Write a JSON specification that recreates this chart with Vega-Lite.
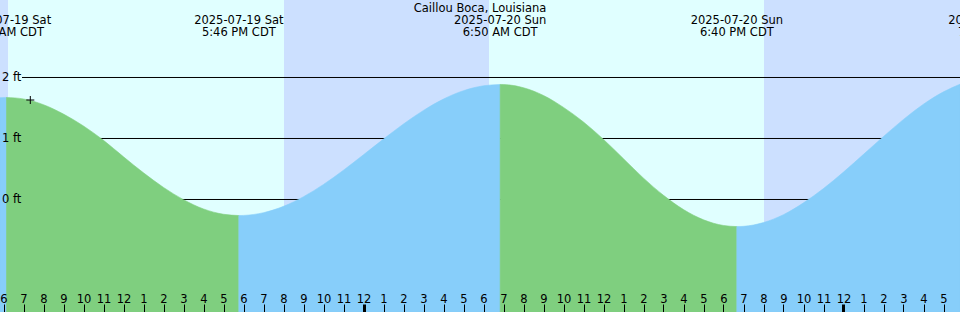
{
  "$schema": "https://vega.github.io/schema/vega-lite/v6.json",
  "width": 960,
  "height": 312,
  "autosize": "none",
  "padding": 0,
  "config": {
    "view": {"stroke": null},
    "font": "DejaVu Sans"
  },
  "datasets": {
    "bands": [
      {"start": -18.175, "end": -17.76, "kind": "night"},
      {"start": -17.76, "end": -3.975, "kind": "day"},
      {"start": -3.975, "end": 6.275, "kind": "night"},
      {"start": 6.275, "end": 20.025, "kind": "day"},
      {"start": 20.025, "end": 29.825, "kind": "night"}
    ],
    "tide": [
      {"h": -18.175, "ft": 1.668, "kind": "rising", "seg": "r0"},
      {"h": -17.85, "ft": 1.673, "kind": "rising", "seg": "r0"},
      {"h": -17.85, "ft": 1.673, "kind": "falling", "seg": "f1"},
      {"h": -17, "ft": 1.648, "kind": "falling", "seg": "f1"},
      {"h": -16, "ft": 1.554, "kind": "falling", "seg": "f1"},
      {"h": -15, "ft": 1.4, "kind": "falling", "seg": "f1"},
      {"h": -14, "ft": 1.205, "kind": "falling", "seg": "f1"},
      {"h": -13, "ft": 0.97, "kind": "falling", "seg": "f1"},
      {"h": -12, "ft": 0.7, "kind": "falling", "seg": "f1"},
      {"h": -11, "ft": 0.437, "kind": "falling", "seg": "f1"},
      {"h": -10, "ft": 0.198, "kind": "falling", "seg": "f1"},
      {"h": -9, "ft": -0.003, "kind": "falling", "seg": "f1"},
      {"h": -8, "ft": -0.155, "kind": "falling", "seg": "f1"},
      {"h": -7, "ft": -0.242, "kind": "falling", "seg": "f1"},
      {"h": -6.2333, "ft": -0.263, "kind": "falling", "seg": "f1"},
      {"h": -6.2333, "ft": -0.263, "kind": "rising", "seg": "r1"},
      {"h": -6, "ft": -0.261, "kind": "rising", "seg": "r1"},
      {"h": -5, "ft": -0.216, "kind": "rising", "seg": "r1"},
      {"h": -4, "ft": -0.112, "kind": "rising", "seg": "r1"},
      {"h": -3, "ft": 0.046, "kind": "rising", "seg": "r1"},
      {"h": -2, "ft": 0.247, "kind": "rising", "seg": "r1"},
      {"h": -1, "ft": 0.481, "kind": "rising", "seg": "r1"},
      {"h": 0, "ft": 0.734, "kind": "rising", "seg": "r1"},
      {"h": 1, "ft": 0.99, "kind": "rising", "seg": "r1"},
      {"h": 2, "ft": 1.238, "kind": "rising", "seg": "r1"},
      {"h": 3, "ft": 1.461, "kind": "rising", "seg": "r1"},
      {"h": 4, "ft": 1.647, "kind": "rising", "seg": "r1"},
      {"h": 5, "ft": 1.784, "kind": "rising", "seg": "r1"},
      {"h": 6, "ft": 1.864, "kind": "rising", "seg": "r1"},
      {"h": 6.8333, "ft": 1.886, "kind": "rising", "seg": "r1"},
      {"h": 6.8333, "ft": 1.886, "kind": "falling", "seg": "f2"},
      {"h": 7, "ft": 1.885, "kind": "falling", "seg": "f2"},
      {"h": 8, "ft": 1.832, "kind": "falling", "seg": "f2"},
      {"h": 9, "ft": 1.705, "kind": "falling", "seg": "f2"},
      {"h": 10, "ft": 1.51, "kind": "falling", "seg": "f2"},
      {"h": 11, "ft": 1.27, "kind": "falling", "seg": "f2"},
      {"h": 12, "ft": 0.985, "kind": "falling", "seg": "f2"},
      {"h": 13, "ft": 0.668, "kind": "falling", "seg": "f2"},
      {"h": 14, "ft": 0.35, "kind": "falling", "seg": "f2"},
      {"h": 15, "ft": 0.068, "kind": "falling", "seg": "f2"},
      {"h": 16, "ft": -0.165, "kind": "falling", "seg": "f2"},
      {"h": 17, "ft": -0.333, "kind": "falling", "seg": "f2"},
      {"h": 18, "ft": -0.426, "kind": "falling", "seg": "f2"},
      {"h": 18.667, "ft": -0.444, "kind": "falling", "seg": "f2"},
      {"h": 18.667, "ft": -0.444, "kind": "rising", "seg": "r2"},
      {"h": 19, "ft": -0.44, "kind": "rising", "seg": "r2"},
      {"h": 20, "ft": -0.378, "kind": "rising", "seg": "r2"},
      {"h": 21, "ft": -0.248, "kind": "rising", "seg": "r2"},
      {"h": 22, "ft": -0.055, "kind": "rising", "seg": "r2"},
      {"h": 23, "ft": 0.18, "kind": "rising", "seg": "r2"},
      {"h": 24, "ft": 0.45, "kind": "rising", "seg": "r2"},
      {"h": 25, "ft": 0.74, "kind": "rising", "seg": "r2"},
      {"h": 26, "ft": 1.033, "kind": "rising", "seg": "r2"},
      {"h": 27, "ft": 1.313, "kind": "rising", "seg": "r2"},
      {"h": 28, "ft": 1.563, "kind": "rising", "seg": "r2"},
      {"h": 29, "ft": 1.765, "kind": "rising", "seg": "r2"},
      {"h": 29.825, "ft": 1.89, "kind": "rising", "seg": "r2"}
    ],
    "levels": [
      {"level": 2, "label": "2 ft"},
      {"level": 1, "label": "1 ft"},
      {"level": 0, "label": "0 ft"}
    ],
    "events": [
      {"h": -17.85, "date": "2025-07-19 Sat", "time": "6:09 AM CDT"},
      {"h": -6.2333, "date": "2025-07-19 Sat", "time": "5:46 PM CDT"},
      {"h": 6.8333, "date": "2025-07-20 Sun", "time": "6:50 AM CDT"},
      {"h": 18.6667, "date": "2025-07-20 Sun", "time": "6:40 PM CDT"},
      {"h": 31.6, "date": "2025-07-21 Mon", "time": "7:36 AM CDT"}
    ],
    "marker": [{"h": -16.66, "ft": 1.631}],
    "station": [{"label": "Caillou Boca, Louisiana"}]
  },
  "layer": [
    {
      "data": {"name": "bands"},
      "mark": {"type": "rect"},
      "encoding": {
        "x": {
          "field": "start", "type": "quantitative", "title": null,
          "scale": {"domain": [-18.175, 29.825], "nice": false, "zero": false},
          "axis": {
            "orient": "top", "offset": -312, "title": null, "domain": false, "grid": false,
            "values": [-18,-17,-16,-15,-14,-13,-12,-11,-10,-9,-8,-7,-6,-5,-4,-3,-2,-1,0,1,2,3,4,5,6,7,8,9,10,11,12,13,14,15,16,17,18,19,20,21,22,23,24,25,26,27,28,29],
            "tickCount": 200,
            "labelExpr": "((datum.value % 12) + 12) % 12 === 0 ? '12' : '' + (((datum.value % 12) + 12) % 12)",
            "tickSize": 8, "tickColor": "black",
            "tickWidth": {"condition": {"test": "datum.value % 24 === 0", "value": 3}, "value": 1},
            "labelColor": "black", "labelFont": "DejaVu Sans", "labelFontSize": 11.5,
            "labelBaseline": "alphabetic", "labelPadding": 1.5,
            "labelFlush": false, "labelOverlap": false, "labelBound": false, "zindex": 1
          }
        },
        "x2": {"field": "end"},
        "color": {
          "field": "kind", "type": "nominal", "legend": null,
          "scale": {"domain": ["day", "night", "rising", "falling"], "range": ["#e0ffff", "#cce0ff", "#87cefa", "#7fcf7f"]}
        }
      }
    },
    {
      "data": {"name": "levels"},
      "mark": {"type": "rule", "color": "black", "strokeWidth": 1},
      "encoding": {
        "x": {"datum": -17.075, "type": "quantitative"},
        "x2": {"datum": 29.825},
        "y": {"field": "level", "type": "quantitative", "axis": null, "scale": {"domain": [-1.8443, 3.2705], "nice": false, "zero": false}}
      }
    },
    {
      "data": {"name": "tide"},
      "mark": {"type": "area", "interpolate": "monotone", "strokeWidth": 0.6},
      "encoding": {
        "x": {"field": "h", "type": "quantitative"},
        "y": {"field": "ft", "type": "quantitative", "axis": null, "scale": {"domain": [-1.8443, 3.2705], "nice": false, "zero": false}},
        "y2": {"datum": -1.8443},
        "color": {
          "field": "kind", "type": "nominal", "legend": null,
          "scale": {"domain": ["day", "night", "rising", "falling"], "range": ["#e0ffff", "#cce0ff", "#87cefa", "#7fcf7f"]}
        },
        "stroke": {
          "field": "kind", "type": "nominal", "legend": null,
          "scale": {"domain": ["day", "night", "rising", "falling"], "range": ["#e0ffff", "#cce0ff", "#87cefa", "#7fcf7f"]}
        },
        "detail": {"field": "seg", "type": "nominal"}
      }
    },
    {
      "data": {"name": "levels"},
      "mark": {"type": "text", "align": "left", "baseline": "middle", "dx": 2, "dy": 1, "font": "DejaVu Sans", "fontSize": 11.5, "color": "black"},
      "encoding": {
        "x": {"datum": -18.175, "type": "quantitative"},
        "y": {"field": "level", "type": "quantitative", "axis": null},
        "text": {"field": "label"}
      }
    },
    {
      "data": {"name": "marker"},
      "mark": {"type": "point", "shape": "M-1,0H1M0,-1V1", "filled": false, "stroke": "black", "strokeWidth": 1, "size": 64, "opacity": 1},
      "encoding": {
        "x": {"field": "h", "type": "quantitative"},
        "y": {"field": "ft", "type": "quantitative", "axis": null}
      }
    },
    {
      "data": {"name": "events"},
      "mark": {"type": "text", "align": "center", "baseline": "alphabetic", "font": "DejaVu Sans", "fontSize": 11.5, "color": "black"},
      "encoding": {
        "x": {"field": "h", "type": "quantitative"},
        "y": {"datum": 2.874, "type": "quantitative", "axis": null},
        "text": {"field": "date"}
      }
    },
    {
      "data": {"name": "events"},
      "mark": {"type": "text", "align": "center", "baseline": "alphabetic", "font": "DejaVu Sans", "fontSize": 11.5, "color": "black"},
      "encoding": {
        "x": {"field": "h", "type": "quantitative"},
        "y": {"datum": 2.677, "type": "quantitative", "axis": null},
        "text": {"field": "time"}
      }
    },
    {
      "data": {"name": "station"},
      "mark": {"type": "text", "align": "center", "baseline": "alphabetic", "font": "DejaVu Sans", "fontSize": 11.5, "color": "black"},
      "encoding": {
        "x": {"datum": 5.825, "type": "quantitative"},
        "y": {"datum": 3.079, "type": "quantitative", "axis": null},
        "text": {"field": "label"}
      }
    }
  ]
}
